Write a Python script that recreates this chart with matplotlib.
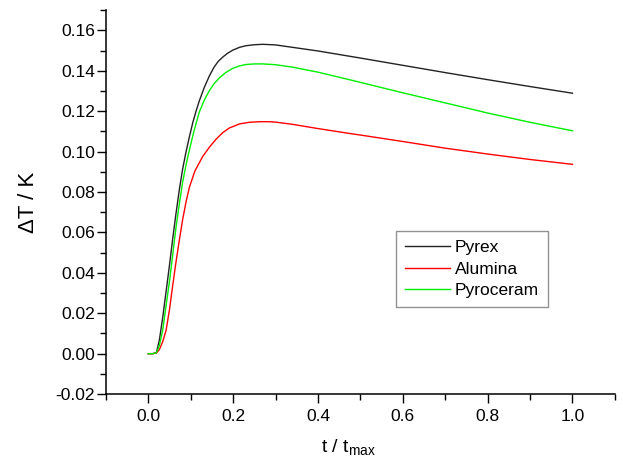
import matplotlib

matplotlib.use("Agg")
import matplotlib.pyplot as plt
from matplotlib.ticker import MultipleLocator

# values
t_pyrex = [0.0, 0.010, 0.019, 0.026, 0.034, 0.042, 0.050, 0.057, 0.065, 0.073, 0.081,
           0.089, 0.097, 0.105, 0.1125, 0.120, 0.132, 0.144, 0.155, 0.165, 0.175, 0.187,
           0.199, 0.215, 0.230, 0.250, 0.270, 0.30, 0.34, 0.40, 0.50, 0.60, 0.70, 0.80,
           0.90, 1.0]
dT_pyrex = [0.0, 0.0, 0.0005, 0.0067, 0.018, 0.031, 0.044, 0.056, 0.069, 0.081, 0.0915,
            0.100, 0.1075, 0.1145, 0.120, 0.125, 0.1318, 0.1375, 0.1418, 0.1447, 0.1467,
            0.1487, 0.1502, 0.1516, 0.1524, 0.1529, 0.1531, 0.1528, 0.1516, 0.1498,
            0.1463, 0.1427, 0.1391, 0.1356, 0.1322, 0.1289]

t_alumina = [0.0, 0.010, 0.019, 0.026, 0.034, 0.042, 0.050, 0.057, 0.065, 0.073, 0.081,
             0.089, 0.097, 0.110, 0.128, 0.144, 0.160, 0.175, 0.191, 0.215, 0.238, 0.262,
             0.285, 0.30, 0.34, 0.40, 0.474, 0.50, 0.60, 0.70, 0.80, 0.90, 1.0]
dT_alumina = [0.0, 0.0, 0.0003, 0.002, 0.006, 0.0117, 0.022, 0.033, 0.045, 0.056, 0.0665,
              0.0752, 0.0825, 0.0905, 0.0975, 0.1022, 0.1062, 0.1093, 0.1117, 0.1137,
              0.1145, 0.1148, 0.1148, 0.1146, 0.1135, 0.1114, 0.1090, 0.1082, 0.1050,
              0.1017, 0.0988, 0.0961, 0.0937]

t_pyroceram = [0.0, 0.010, 0.019, 0.026, 0.034, 0.042, 0.050, 0.057, 0.065, 0.073, 0.081,
               0.089, 0.097, 0.108, 0.120, 0.132, 0.144, 0.155, 0.167, 0.183, 0.199, 0.215,
               0.230, 0.250, 0.270, 0.30, 0.34, 0.40, 0.474, 0.60, 0.70, 0.80, 0.90, 1.0]
dT_pyroceram = [0.0, 0.0, 0.0004, 0.004, 0.0117, 0.024, 0.036, 0.048, 0.062, 0.074, 0.085,
                0.0935, 0.101, 0.1105, 0.1195, 0.1255, 0.1302, 0.1336, 0.1364, 0.1392,
                0.1412, 0.1424, 0.1431, 0.1434, 0.1434, 0.1430, 0.1418, 0.1393, 0.1356,
                0.1291, 0.1241, 0.1191, 0.1145, 0.1103]

plt.rcParams["font.family"] = ["Liberation Sans", "DejaVu Sans"]
plt.rcParams["mathtext.default"] = "regular"

fig = plt.figure(figsize=(6.23, 4.62), dpi=100)
ax = fig.add_axes([0.170, 0.147, 0.817, 0.831])

ax.plot(t_pyrex, dT_pyrex, color="#222222", lw=1.0, label="Pyrex")
ax.plot(t_alumina, dT_alumina, color="#ff0000", lw=1.0, label="Alumina")
ax.plot(t_pyroceram, dT_pyroceram, color="#00ee00", lw=1.0, label="Pyroceram")

ax.set_xlim(-0.1, 1.1)
ax.set_ylim(-0.02, 0.17)
ax.xaxis.set_major_locator(MultipleLocator(0.2))
ax.xaxis.set_minor_locator(MultipleLocator(0.1))
ax.yaxis.set_major_locator(MultipleLocator(0.02))
ax.yaxis.set_minor_locator(MultipleLocator(0.01))
ax.xaxis.set_major_formatter(lambda v, pos: f"{v:.1f}")
ax.yaxis.set_major_formatter(lambda v, pos: f"{v:.2f}")

for side in ("top", "right"):
    ax.spines[side].set_visible(False)
for side in ("left", "bottom"):
    ax.spines[side].set_linewidth(1.1)

ax.tick_params(which="major", direction="out", length=6.5, width=1.0, labelsize=12.5)
ax.tick_params(which="minor", direction="out", length=4, width=1.0)
ax.tick_params(axis="y", which="major", pad=1.5)
ax.tick_params(axis="x", which="major", pad=4)

ax.set_ylabel("ΔT / K", fontsize=16, labelpad=12)
ax.set_xlabel("t / t$_{max}$", fontsize=14)
ax.xaxis.set_label_coords(0.477, -0.112)

leg = ax.legend(loc="upper left", bbox_to_anchor=(0.570, 0.4245), borderaxespad=0,
                fontsize=12.5, frameon=True, fancybox=False, handlelength=2.6,
                handletextpad=0.3, labelspacing=0.38, borderpad=0.5)
leg.get_frame().set_edgecolor("#777777")
leg.get_frame().set_linewidth(1.0)

fig.savefig("out.png", dpi=100)
plt.close(fig)
